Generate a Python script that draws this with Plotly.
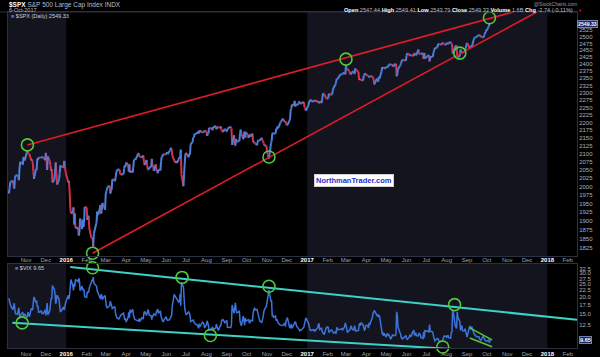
import math
import pandas as pd
import plotly.graph_objects as go

# ---------------- data ----------------
NYSE_HOLIDAYS = ['2015-11-26', '2015-12-25', '2016-01-01', '2016-01-18', '2016-02-15', '2016-03-25',
                 '2016-05-30', '2016-07-04', '2016-09-05', '2016-11-24', '2016-12-26', '2017-01-02',
                 '2017-01-16', '2017-02-20', '2017-04-14', '2017-05-29', '2017-07-04', '2017-09-04']
FIRST_DAY = '2015-10-05'
LAST_DAY = '2017-10-06'

spx_2015 = [1987, 1980, 1996, 2013, 2015, 2017, 2004, 1994, 2024, 2033, 2034, 2031, 2019, 2053, 2075, 2071, 2066, 2090, 2089, 2079,
            2104, 2110, 2102, 2100, 2099, 2079, 2082, 2075, 2046, 2023, 2053, 2050, 2084, 2081, 2089, 2087, 2089, 2089, 2090, 2080,
            2103, 2080, 2050, 2092, 2077, 2064, 2048, 2052, 2012, 2022, 2043, 2073, 2042, 2006, 2021, 2039, 2064, 2061, 2057, 2078, 2063, 2044]
spx_2016 = [2013, 2017, 1990, 1943, 1922, 1924, 1939, 1890, 1922, 1880, 1881, 1859, 1869, 1907, 1877, 1904, 1883, 1893, 1940,
            1939, 1903, 1913, 1915, 1880, 1853, 1852, 1852, 1829, 1865, 1896, 1927, 1918, 1918, 1946, 1921, 1930, 1952, 1948, 1932,
            1978, 1986, 1993, 2000, 2002, 1979, 1989, 1990, 2022, 2020, 2016, 2027, 2041, 2050, 2052, 2050, 2037, 2036, 2037, 2055, 2064, 2060,
            2073, 2066, 2045, 2067, 2042, 2048, 2042, 2062, 2082, 2083, 2081, 2094, 2101, 2102, 2091, 2092, 2088, 2092, 2095, 2076, 2065,
            2081, 2063, 2051, 2051, 2057, 2059, 2084, 2064, 2064, 2047, 2067, 2047, 2048, 2040, 2052, 2048, 2076, 2091, 2090, 2099, 2097,
            2099, 2105, 2099, 2109, 2112, 2119, 2115, 2096, 2079, 2075, 2072, 2078, 2071, 2083, 2089, 2085, 2113, 2037, 2001, 2036, 2071, 2099,
            2103, 2089, 2100, 2098, 2130, 2137, 2152, 2152, 2164, 2162, 2167, 2164, 2173, 2165, 2175, 2168, 2169, 2167, 2170, 2174,
            2171, 2157, 2164, 2164, 2183, 2181, 2182, 2175, 2186, 2184, 2190, 2178, 2182, 2187, 2184, 2183, 2187, 2175, 2172, 2169, 2180, 2176, 2171,
            2171, 2180, 2186, 2186, 2181, 2128, 2159, 2127, 2126, 2147, 2139, 2139, 2140, 2163, 2177, 2165, 2146, 2160, 2171, 2151, 2168,
            2161, 2150, 2160, 2161, 2154, 2164, 2137, 2139, 2133, 2133, 2127, 2140, 2144, 2141, 2141, 2151, 2143, 2139, 2133, 2126, 2126,
            2112, 2098, 2089, 2085, 2132, 2140, 2163, 2167, 2164, 2164, 2180, 2177, 2187, 2182, 2198, 2203, 2205, 2213, 2202, 2205, 2199,
            2191, 2192, 2205, 2212, 2241, 2246, 2260, 2257, 2272, 2253, 2262, 2258, 2263, 2271, 2265, 2261, 2264, 2269, 2250, 2249, 2239]
spx_2017 = [2258, 2271, 2269, 2277, 2269, 2269, 2275, 2270, 2275, 2268, 2272, 2264, 2271, 2265, 2280, 2298, 2297, 2295, 2281, 2279,
            2280, 2281, 2297, 2293, 2293, 2295, 2308, 2316, 2328, 2338, 2349, 2347, 2351, 2365, 2363, 2364, 2367, 2370, 2364,
            2396, 2382, 2383, 2375, 2368, 2363, 2365, 2373, 2373, 2365, 2385, 2381, 2378, 2373, 2344, 2348, 2346, 2344, 2342, 2359, 2361, 2368, 2363,
            2359, 2360, 2353, 2357, 2356, 2357, 2354, 2345, 2329, 2349, 2342, 2338, 2356, 2349, 2374, 2389, 2387, 2389, 2384,
            2388, 2391, 2388, 2390, 2399, 2399, 2397, 2400, 2394, 2391, 2402, 2401, 2357, 2366, 2382, 2394, 2398, 2404, 2415, 2416, 2413, 2412,
            2430, 2439, 2436, 2429, 2433, 2434, 2432, 2429, 2440, 2438, 2432, 2433, 2453, 2437, 2436, 2435, 2438, 2439, 2419, 2441, 2420, 2423,
            2429, 2433, 2410, 2425, 2427, 2426, 2443, 2448, 2459, 2459, 2461, 2474, 2473, 2473, 2470, 2477, 2478, 2475, 2472, 2470,
            2476, 2478, 2472, 2477, 2481, 2475, 2474, 2438, 2441, 2466, 2465, 2468, 2430, 2426, 2428, 2453, 2444, 2439, 2443, 2444, 2446, 2458, 2472,
            2477, 2458, 2466, 2465, 2461, 2488, 2496, 2498, 2496, 2500, 2504, 2507, 2508, 2501, 2502, 2497, 2497, 2507, 2510, 2519,
            2529, 2535, 2538, 2552, 2549.33]

vix_2015 = [19.54, 19.40, 18.40, 17.42, 17.08, 16.17, 17.67, 18.03, 16.05, 15.05, 14.98, 15.75, 16.70, 14.45, 14.46, 15.29, 15.43, 14.33, 14.61, 15.07,
            14.15, 14.54, 15.51, 15.05, 14.33, 16.52, 16.06, 16.06, 18.37, 20.08, 18.16, 18.84, 16.85, 16.99, 15.47, 15.62, 15.93, 15.19, 15.12, 16.13,
            14.67, 15.91, 18.11, 14.81, 15.84, 17.60, 19.61, 19.34, 24.39, 22.73, 20.95, 17.86, 18.94, 20.70, 19.34, 16.60, 15.57, 15.74, 16.91, 16.08, 17.29, 18.21]
vix_2016 = [20.70, 19.34, 20.59, 24.99, 27.01, 24.30, 22.47, 25.22, 23.95, 27.02, 26.05, 27.59, 26.69, 22.34, 24.15, 22.50, 23.11, 22.42, 20.20,
            19.98, 21.98, 21.65, 21.84, 23.38, 26.00, 26.54, 26.29, 28.14, 25.40, 24.11, 22.31, 21.64, 20.53, 19.38, 20.98, 20.72, 19.11, 19.81, 20.55,
            17.70, 17.09, 16.70, 16.86, 17.35, 18.67, 17.50, 16.50, 16.50, 16.92, 16.84, 14.99, 14.44, 14.02, 13.79, 14.17, 14.46, 14.74, 15.24, 13.82, 13.56, 13.95,
            13.10, 14.12, 15.42, 14.09, 16.16, 15.36, 16.26, 14.85, 13.84, 13.72, 13.62, 13.35, 13.24, 13.28, 13.95, 13.22, 14.08, 13.96, 13.77, 15.22, 15.70,
            14.68, 15.60, 16.05, 15.91, 14.72, 14.57, 13.63, 14.69, 14.41, 15.04, 14.68, 15.57, 15.95, 16.33, 15.20, 15.82, 14.42, 13.90, 13.43, 13.12, 14.19,
            14.20, 13.63, 13.47, 13.65, 14.05, 14.08, 14.64, 17.03, 20.97, 20.50, 20.14, 19.37, 19.41, 18.37, 18.48, 21.17, 17.25, 25.76, 23.85, 18.75, 16.64, 15.63,
            14.77, 15.58, 14.96, 14.76, 13.20, 13.54, 13.55, 13.04, 12.82, 12.67, 12.44, 11.97, 11.77, 12.74, 12.02, 12.87, 13.05, 12.83, 12.72, 11.87,
            12.44, 13.37, 12.86, 12.42, 11.39, 11.50, 11.66, 12.05, 11.68, 11.55, 11.81, 12.64, 12.19, 11.43, 11.34, 12.27, 12.38, 13.45, 13.63, 13.65, 12.94, 13.12, 13.42,
            13.48, 11.98, 12.02, 11.94, 12.51, 17.50, 15.16, 17.85, 18.14, 16.30, 15.37, 15.53, 15.92, 13.30, 12.45, 12.29, 14.50, 13.10, 12.39, 14.02, 13.29,
            13.57, 13.63, 12.99, 12.84, 13.48, 13.38, 15.36, 15.91, 16.69, 16.12, 16.21, 15.28, 14.41, 13.75, 13.34, 13.02, 13.46, 14.24, 15.36, 16.19, 17.06,
            18.56, 19.32, 22.08, 22.51, 18.71, 18.74, 14.38, 14.74, 14.17, 14.48, 13.37, 13.72, 13.35, 12.85, 12.42, 12.41, 12.43, 12.34, 12.90, 12.08, 13.33,
            14.07, 14.12, 12.14, 11.79, 12.22, 12.64, 11.75, 12.64, 12.72, 13.19, 12.79, 12.20, 11.71, 11.45, 11.27, 11.43, 11.44, 11.99, 12.95, 13.37, 14.04]
vix_2017 = [12.85, 11.85, 11.67, 11.32, 11.56, 11.49, 11.26, 11.54, 11.23, 11.87, 12.48, 12.78, 11.54, 11.77, 11.07, 10.81, 10.63, 10.58, 11.88, 11.99,
            12.04, 11.93, 10.97, 11.37, 11.45, 11.29, 10.88, 10.85, 11.07, 10.74, 11.97, 11.76, 11.49, 11.57, 11.74, 11.71, 11.47, 12.09, 12.92,
            12.54, 11.81, 10.96, 11.24, 11.45, 11.86, 12.30, 11.66, 11.35, 12.30, 11.63, 11.21, 11.28, 11.34, 12.47, 12.81, 12.30, 12.96, 12.50, 11.53, 11.42, 11.54, 12.37,
            12.38, 11.79, 12.89, 12.39, 12.87, 14.05, 15.07, 15.77, 15.96, 14.66, 14.42, 14.93, 14.15, 14.63, 10.84, 10.76, 10.85, 10.36, 10.82,
            10.11, 10.59, 10.68, 10.46, 10.57, 9.77, 10.11, 10.21, 10.60, 10.40, 10.42, 10.65, 15.59, 14.66, 12.04, 10.93, 10.72, 9.99, 9.99, 9.81, 10.38, 10.41,
            9.89, 9.75, 10.07, 10.45, 10.39, 10.16, 10.70, 11.40, 10.42, 10.64, 10.90, 10.38, 10.37, 10.86, 10.75, 10.48, 10.02, 9.90, 11.06, 10.03, 11.44, 11.18,
            11.22, 11.07, 12.54, 11.19, 11.11, 10.89, 10.30, 9.90, 9.51, 9.82, 9.89, 9.79, 9.58, 9.36, 9.43, 9.43, 9.60, 10.11, 10.29, 10.26,
            10.09, 10.28, 10.44, 10.03, 9.93, 10.96, 11.11, 16.04, 15.51, 12.33, 12.04, 11.74, 15.55, 14.26, 13.19, 11.35, 12.25, 12.23, 11.28, 11.32, 11.70, 11.22, 10.59,
            10.13, 12.23, 11.63, 11.55, 12.12, 10.73, 10.58, 10.50, 10.44, 10.17, 10.15, 10.18, 9.78, 9.67, 9.59, 10.21, 10.17, 9.87, 9.55, 9.51,
            9.45, 9.51, 9.63, 9.19, 9.65]

# hand-drawn annotations (date, value)
spx_upper_trend_x = ['2015-11-03', '2017-11-10']
spx_upper_trend_y = [2128, 2594]
spx_lower_trend_x = ['2016-02-10', '2017-12-16']
spx_lower_trend_y = [1811, 2594]
spx_circle_x = ['2015-11-03', '2016-02-10', '2016-11-04', '2017-03-01', '2017-08-21', '2017-10-05']
spx_circle_y = [2128, 1811, 2090, 2418, 2440, 2572]

vix_upper_trend_x = ['2016-01-07', '2018-02-15']
vix_upper_trend_y = [33.4, 13.6]
vix_lower_trend_x = ['2015-10-11', '2017-11-21']
vix_lower_trend_y = [12.94, 7.71]
vix_chan_top_x = ['2017-09-05', '2017-10-09']
vix_chan_top_y = [11.86, 9.65]
vix_chan_bot_x = ['2017-09-05', '2017-10-09']
vix_chan_bot_y = [9.98, 8.6]
vix_circle_x = ['2015-10-26', '2016-02-10', '2016-06-25', '2016-08-07', '2016-11-04', '2017-07-26', '2017-08-13']
vix_circle_y = [12.9, 33.0, 28.0, 10.4, 24.1, 8.55, 17.6]

month_labels = ['Nov', 'Dec', '2016', 'Feb', 'Mar', 'Apr', 'May', 'Jun', 'Jul', 'Aug', 'Sep', 'Oct', 'Nov', 'Dec',
                '2017', 'Feb', 'Mar', 'Apr', 'May', 'Jun', 'Jul', 'Aug', 'Sep', 'Oct', 'Nov', 'Dec', '2018', 'Feb']
spx_ticks = [1825, 1850, 1875, 1900, 1925, 1950, 1975, 2000, 2025, 2050, 2075, 2100, 2125, 2150, 2175, 2200,
             2225, 2250, 2275, 2300, 2325, 2350, 2375, 2400, 2425, 2450, 2475, 2500, 2525]
vix_ticks = [12.5, 15.0, 17.5, 20.0, 22.5, 25.0, 27.5, 30.0, 32.5]

X_RANGE = ['2015-10-04 12:00', '2018-02-15']
SPX_RANGE = [1803.4, 2594]
VIX_RANGE = [8.41, 35.2]

# ---------------- build ----------------
dates = pd.bdate_range(FIRST_DAY, LAST_DAY, freq='C', holidays=NYSE_HOLIDAYS)
spx = spx_2015 + spx_2016 + spx_2017
vix = vix_2015 + vix_2016 + vix_2017
n = min(len(dates), len(spx), len(vix))
dates = list(dates[:n])
spx = spx[:n]
vix = vix[:n]

UP = '#4a7fdc'
DOWN = '#d83048'
ux, uy, dx, dy = [], [], [], []
for i in range(1, n):
    if spx[i] >= spx[i - 1]:
        ux += [dates[i - 1], dates[i], None]; uy += [spx[i - 1], spx[i], None]
    else:
        dx += [dates[i - 1], dates[i], None]; dy += [spx[i - 1], spx[i], None]

fig = go.Figure()
fig.add_trace(go.Scatter(x=dx, y=dy, mode='lines', line=dict(color=DOWN, width=2), hoverinfo='skip', xaxis='x', yaxis='y'))
fig.add_trace(go.Scatter(x=ux, y=uy, mode='lines', line=dict(color=UP, width=2), hoverinfo='skip', xaxis='x', yaxis='y'))

RED = '#e01c28'
CYAN = '#3cd2c6'
GREEN = '#52c83a'
fig.add_trace(go.Scatter(x=spx_upper_trend_x, y=spx_upper_trend_y, mode='lines', line=dict(color=RED, width=1.6), xaxis='x', yaxis='y'))
fig.add_trace(go.Scatter(x=spx_lower_trend_x, y=spx_lower_trend_y, mode='lines', line=dict(color=RED, width=1.6), xaxis='x', yaxis='y'))

fig.add_trace(go.Scatter(x=dates, y=vix, mode='lines', line=dict(color='#3c74dc', width=1.5), xaxis='x2', yaxis='y2'))
fig.add_trace(go.Scatter(x=vix_upper_trend_x, y=vix_upper_trend_y, mode='lines', line=dict(color=CYAN, width=2), xaxis='x2', yaxis='y2'))
fig.add_trace(go.Scatter(x=vix_lower_trend_x, y=vix_lower_trend_y, mode='lines', line=dict(color=CYAN, width=2), xaxis='x2', yaxis='y2'))
fig.add_trace(go.Scatter(x=vix_chan_top_x, y=vix_chan_top_y, mode='lines', line=dict(color=GREEN, width=1.5), xaxis='x2', yaxis='y2'))
fig.add_trace(go.Scatter(x=vix_chan_bot_x, y=vix_chan_bot_y, mode='lines', line=dict(color=GREEN, width=1.5), xaxis='x2', yaxis='y2'))

circle_marker = dict(symbol='circle-open', size=12, color=GREEN, line=dict(width=1.6, color=GREEN))
fig.add_trace(go.Scatter(x=spx_circle_x, y=spx_circle_y, mode='markers', marker=circle_marker,
                         cliponaxis=False, xaxis='x', yaxis='y'))
fig.add_trace(go.Scatter(x=vix_circle_x, y=vix_circle_y, mode='markers', marker=circle_marker,
                         cliponaxis=False, xaxis='x2', yaxis='y2'))

shapes = []
SHADE = '#14141e'
for yr in ['y', 'y2']:
    for x0, x1 in [('2015-09-01', '2016-01-01'), ('2017-01-01', '2018-01-01')]:
        shapes.append(dict(type='rect', xref='x', yref=yr + ' domain', x0=x0, x1=x1, y0=0, y1=1,
                           fillcolor=SHADE, line=dict(width=0), layer='below'))
# header rule
shapes.append(dict(type='line', xref='paper', yref='paper', x0=-0.014, x1=1, y0=1, y1=1,
                   line=dict(color='#2a3142', width=1)))

month_ticks = list(pd.date_range('2015-11-01', '2018-02-01', freq='MS'))
tick_text = [("<b><span style='color:#ffffff'>%s</span></b>" % t) if t.isdigit() else t for t in month_labels]

FONT = 'Liberation Sans, Arial, sans-serif'
axcommon = dict(showgrid=False, zeroline=False, showline=True, mirror=True, linecolor='#2a3142', linewidth=1,
                ticks='', automargin=False)
xcommon = dict(axcommon, type='date', range=X_RANGE, tickvals=month_ticks, ticktext=tick_text,
               tickfont=dict(size=6, color='#9ca2b2', family=FONT))

H_TOP, H_BOT = 12, 348
def py(ypix):
    return (H_BOT - ypix) / (H_BOT - H_TOP)
def px(xpix):
    return (xpix - 8) / 569.0

fig.update_layout(
    width=600, height=357, margin=dict(l=8, r=23, t=12, b=9, autoexpand=False),
    paper_bgcolor='#000000', plot_bgcolor='#000000', showlegend=False, hovermode=False,
    font=dict(family=FONT, size=6, color='#a8acb8'),
    xaxis=dict(xcommon, anchor='y', domain=[0, 1], ticklabelstandoff=-2),
    xaxis2=dict(xcommon, anchor='y2', domain=[0, 1], matches='x'),
    yaxis=dict(axcommon, type='log', domain=[py(256), 1], side='right',
               range=[math.log10(SPX_RANGE[0]), math.log10(SPX_RANGE[1])],
               tickvals=spx_ticks, ticktext=[str(t) for t in spx_ticks],
               tickfont=dict(size=6, color='#aab0c0', family=FONT)),
    yaxis2=dict(axcommon, type='log', domain=[0, py(264)], side='right',
                range=[math.log10(VIX_RANGE[0]), math.log10(VIX_RANGE[1])],
                tickvals=vix_ticks, ticktext=['%.1f' % t for t in vix_ticks],
                tickfont=dict(size=6, color='#aab0c0', family=FONT)),
    shapes=shapes,
)

ann = []
def text(xp, yp, s, size=6, color='#a8acb8', xanchor='left', **kw):
    ann.append(dict(xref='paper', yref='paper', x=px(xp), y=py(yp), text=s, showarrow=False,
                    xanchor=xanchor, yanchor='middle', font=dict(size=size, color=color, family=FONT), **kw))

text(7, 5, "<b><span style='color:#ffffff'>$SPX</span></b> S&P 500 Large Cap Index INDX", size=6.5, color='#b8bcc8')
text(7, 10.5, "6-Oct-2017", size=5.5, color='#b8bcc8')
text(9, 16, "<span style='color:#4a6fd0'>■</span> $SPX (Daily) %.2f" % spx[-1], size=5.5, color='#c8ccd8')
text(575, 10, "<b><span style='color:#ffffff'>Open</span></b> 2547.44 <b><span style='color:#ffffff'>High</span></b> 2549.41 "
              "<b><span style='color:#ffffff'>Low</span></b> 2543.79 <b><span style='color:#ffffff'>Close</span></b> 2549.33 "
              "<b><span style='color:#ffffff'>Volume</span></b> 1.6B <b><span style='color:#ffffff'>Chg</span></b> -2.74 (-0.11%)",
     size=5.6, color='#b8bcc8', xanchor='right')
text(580, 10, "▼", size=4, color='#e02020', xanchor='center')
text(579, 4, "@StockCharts.com", size=5, color='#9098a8', xanchor='right')
text(13, 267.5, "<span style='color:#4a6fd0'>■</span> $VIX %.2f" % vix[-1], size=5.5, color='#c8ccd8')
text(354, 180, "<b>NorthmanTrader.com</b>", size=7.5, color='#2a2ad0', xanchor='center',
     bgcolor='#ffffff', bordercolor='#d0d0d0', borderwidth=1, borderpad=1)

ann.append(dict(xref='paper', yref='y', x=1.0, y=math.log10(spx[-1]), text='<b>%.2f</b>' % spx[-1], showarrow=False,
                xanchor='left', yanchor='middle', font=dict(size=5.2, color='#ffffff', family=FONT),
                bgcolor='#1a2a60', bordercolor='#7080b8', borderwidth=1, borderpad=0))
ann.append(dict(xref='paper', yref='y2', x=1.003, y=math.log10(vix[-1]), text='<b>%.2f</b>' % vix[-1], showarrow=False,
                xanchor='left', yanchor='middle', font=dict(size=5.6, color='#ffffff', family=FONT),
                bgcolor='#1a2a60', bordercolor='#7080b8', borderwidth=1, borderpad=0))
fig.update_layout(annotations=ann)

fig.write_html('out.html', config={'displayModeBar': False},
               post_script="document.body.style.margin='0';document.body.style.padding='0';")
